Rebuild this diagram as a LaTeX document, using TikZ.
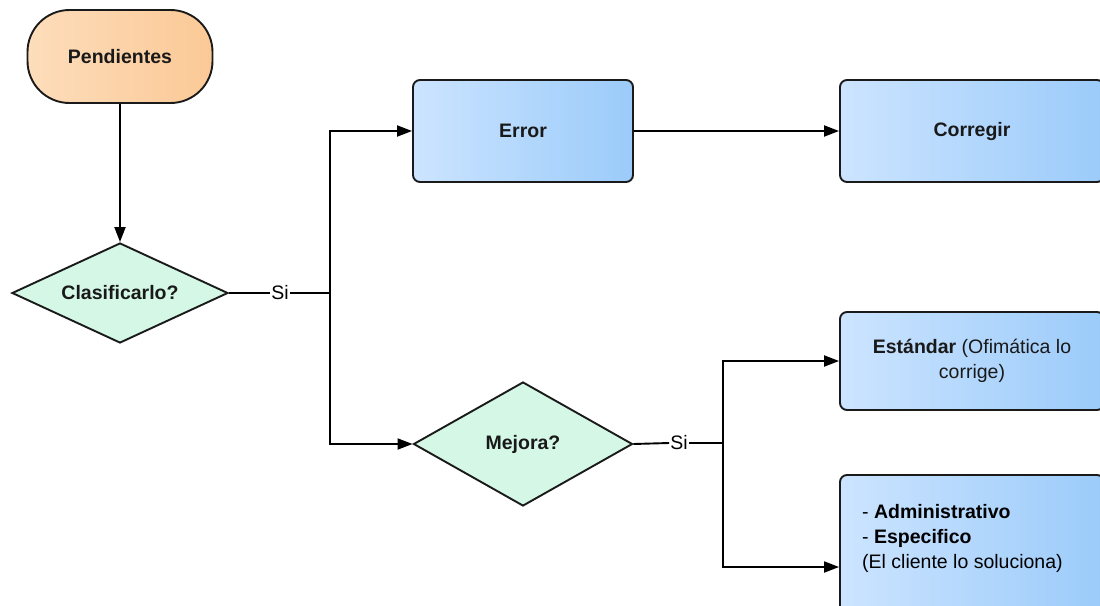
\documentclass[tikz,border=0pt]{standalone}
\usepackage{fontspec}
\setmainfont{Liberation Sans}
\usetikzlibrary{shapes.geometric,arrows.meta}
\definecolor{bordercol}{HTML}{1A1A1A}
\definecolor{orangeL}{HTML}{FDDDBB}
\definecolor{orangeR}{HTML}{FBC996}
\definecolor{blueL}{HTML}{CCE4FF}
\definecolor{blueR}{HTML}{9BCBFA}
\definecolor{greenF}{HTML}{D4F7E6}
\tikzset{
  base/.style={draw=bordercol, line width=1.9pt, font=\fontsize{19.5}{25}\selectfont, text=black!90, inner sep=0pt},
  stadium/.style={base, rounded corners=42pt, left color=orangeL, right color=orangeR, minimum width=185pt, minimum height=93pt},
  bluebox/.style={base, rectangle, rounded corners=7pt, left color=blueL, right color=blueR},
  decision/.style={base, diamond, fill=greenF},
  lbl/.style={font=\fontsize{19.5}{25}\selectfont, inner sep=1pt},
  conn/.style={line width=1.9pt, draw=black},
  arr/.style={conn, -{Triangle[length=15pt,width=11pt]}}
}
\begin{document}
\begin{tikzpicture}[x=1pt,y=-1pt]
\useasboundingbox (0,0) rectangle (1100,605);
\fill[white] (0,0) rectangle (1100,605);
\clip (0,0) rectangle (1100,605);

\node[stadium] (pend) at (120,56.5) {\textbf{Pendientes}};
\node[decision, aspect=2.16, minimum width=216pt, minimum height=100pt] (clas) at (120,293) {\textbf{Clasificarlo?}};
\node[lbl] (si1) at (280,293) {Si};
\coordinate (j1) at (330,293);

\node[bluebox, minimum width=220pt, minimum height=102pt] (error) at (523,131) {\textbf{Error}};
\node[bluebox, minimum width=264pt, minimum height=102pt] (corr) at (972,131) {\textbf{Corregir}};

\node[decision, aspect=1.77, minimum width=219pt, minimum height=124pt] (mejora) at (523,444) {\textbf{Mejora?}};
\node[lbl] (si2) at (679,443) {Si};
\coordinate (j2) at (723,443);

\node[bluebox, minimum width=264pt, minimum height=98pt, align=center] (std) at (972,361) {\textbf{Estándar} (Ofimática lo\\corrige)};
\node[bluebox, minimum width=264pt, minimum height=184pt] (adm) at (972,567) {};
\node[font=\fontsize{19.5}{25}\selectfont, align=left, anchor=west, inner sep=0pt] (admtxt) at (862,538) {- \textbf{Administrativo}\\- \textbf{Especifico}\\(El cliente lo soluciona)};

\draw[arr] (pend) -- (clas);
\draw[conn] (clas.east) -- (si1.west);
\draw[conn] (si1.east) -- (j1);
\draw[arr] (j1) |- (error.west);
\draw[arr] (j1) |- (mejora.west);
\draw[arr] (error) -- (corr);
\draw[conn] (mejora.east) -- (si2.west);
\draw[conn] (si2.east) -- (j2);
\draw[arr] (j2) |- (std.west);
\draw[arr] (j2) |- (adm.west);
\end{tikzpicture}
\end{document}
